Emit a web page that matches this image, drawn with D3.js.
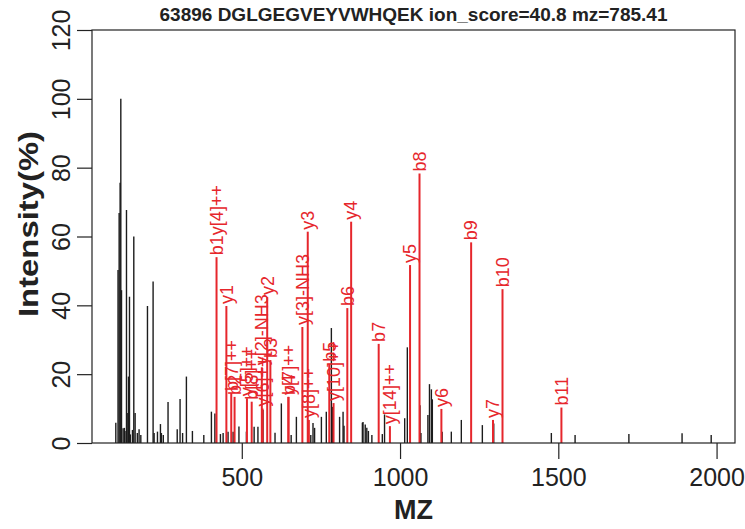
<!DOCTYPE html>
<html>
<head>
<meta charset="utf-8">
<script src="https://cdn.jsdelivr.net/npm/d3@7"></script>
<style>
  html, body { margin: 0; padding: 0; background: #fff; }
  svg { display: block; font-family: "Liberation Sans", Arial, Helvetica, sans-serif; }
</style>
</head>
<body>
<svg id="chart" width="745" height="529"></svg>
<script>
// ---- data ----
const titleText = "63896 DGLGEGVEYVWHQEK ion_score=40.8 mz=785.41";
const xLabel = "MZ";
const yLabel = "Intensity(%)";

// unmatched (black) peaks
const peakMz  = [102,109,112.5,115.6,117.8,120,125,129,131,135.7,140,142,145.2,148,154.6,158.8,163,170,175.5,181,
                 202,219.8,223,233.6,243,246,252,267,296,305,313,325,344,380,404,415,432.5,441,456.6,472.5,
                 491,514.6,539,551,567,605,625,656,672.5,718,725,730,751.5,767,783,787,809,820,823,881,
                 883,890,895,900,911,944,951,1014.6,1023,1063,1066,1088,1093,1099,1102,1133,1162,1193.6,1260,1296,
                 1478,1553,1723,1891,1983];
const peakInt = [5.9,50.3,66.8,75.6,100,44.4,4.3,4.4,3.5,67.7,8.7,19.3,42.5,2.5,3.8,60,8.7,2.9,4,2.3,
                 39.8,46.9,2.9,3.3,5.5,2.9,2.3,11.9,4,12.8,2.9,19.3,3.5,2.3,9.1,8.6,2.6,2.9,3.3,3.3,
                 4.8,3.3,4.7,4.7,9.6,3,11.5,2.3,7.6,2.3,5.8,4.4,7.6,9.1,33.4,10.5,7.6,9.1,5,5.9,
                 6.1,5.4,4.4,3.5,2.3,2.6,8.3,7.2,27.8,11,2.9,8.1,17.1,15.6,12.7,3.3,3.3,6.7,5.2,5.7,
                 2.9,2.3,2.6,2.8,2.3];

// matched fragment ions (red)
const ionLabel = ["b1y[4]++","y1","b[7]++","b2","y[5]++","b[8]++","y[2]-NH3","y[6]++","y2","b3",
                  "b4","y[7]++","y[3]-NH3","y3","y[8]++","b5","y[10]++","b6","y4","b7",
                  "y[14]++","y5","b8","y6","b9","y7","b10","b11"];
const ionMz    = [420.2,451.3,466.7,477.2,516.3,531.3,563.3,565.8,580.3,590.3,
                  647.3,647.4,691.4,708.4,711.9,776.4,789.9,833.4,845.5,932.5,
                  968.0,1031.6,1061.5,1130.6,1224.6,1293.7,1323.7,1509.8];
const ionInt   = [54,39.8,14.5,13.4,13,12,22,10,42.4,24.1,
                  13.4,13.4,33.7,61.4,6.7,23,11.6,39.2,64.3,28.8,
                  4.9,51.7,78.3,9.9,58.3,6.7,44.7,10.3];

const xTicks = [500,1000,1500,2000];
const yTicks = [0,20,40,60,80,100,120];

// ---- layout ----
const box = {left: 92, right: 735, top: 30, bottom: 443};
const red = "#e6262c";
const svg = d3.select("#chart");

const allMz = peakMz.concat(ionMz);
const lo = d3.min(allMz), hi = d3.max(allMz), pad = (hi - lo) * 0.04;
const x = d3.scaleLinear().domain([lo - pad, hi + pad]).range([box.left, box.right]);
const y = d3.scaleLinear().domain([0, 120]).range([box.bottom, box.top]);

// black peaks
svg.append("g").selectAll("line").data(peakMz.map((m, i) => [m, peakInt[i]])).join("line")
  .attr("x1", d => x(d[0])).attr("x2", d => x(d[0]))
  .attr("y1", y(0)).attr("y2", d => y(d[1]))
  .attr("stroke", "#1c1c1c").attr("stroke-width", 1.4);

// red peaks
const ions = ionMz.map((m, i) => ({mz: m, v: ionInt[i], label: ionLabel[i]}));
svg.append("g").selectAll("line").data(ions).join("line")
  .attr("x1", d => x(d.mz)).attr("x2", d => x(d.mz))
  .attr("y1", y(0)).attr("y2", d => y(d.v))
  .attr("stroke", red).attr("stroke-width", 2);

svg.append("g").selectAll("text").data(ions).join("text")
  .attr("transform", d => `translate(${x(d.mz)},${y(d.v) - 2}) rotate(-90)`)
  .attr("dy", "0.35em")
  .attr("font-size", 18)
  .attr("fill", red)
  .text(d => d.label);

// box
svg.append("rect")
  .attr("x", box.left).attr("y", box.top)
  .attr("width", box.right - box.left).attr("height", box.bottom - box.top)
  .attr("fill", "none").attr("stroke", "#222").attr("stroke-width", 1.2);

// axes
const gx = svg.append("g").attr("transform", `translate(0,${box.bottom})`)
  .call(d3.axisBottom(x).tickValues(xTicks).tickFormat(d3.format("d"))
        .tickSize(16).tickSizeOuter(0).tickPadding(9));
gx.select(".domain").remove();
gx.selectAll("line").attr("stroke", "#222").attr("stroke-width", 1.2);
gx.selectAll("text").attr("font-size", 25).attr("fill", "#222").attr("font-family", null);

const gy = svg.append("g").attr("transform", `translate(${box.left},0)`)
  .call(d3.axisLeft(y).tickValues(yTicks).tickFormat(d3.format("d")).tickSize(15).tickSizeOuter(0));
gy.select(".domain").remove();
gy.selectAll("line").attr("stroke", "#222").attr("stroke-width", 1.2);
gy.selectAll("text")
  .attr("x", null).attr("dy", null)
  .attr("transform", "translate(-22,0) rotate(-90)")
  .attr("text-anchor", "middle")
  .attr("font-size", 25).attr("fill", "#222").attr("font-family", null);

// titles
svg.append("text").attr("x", (box.left + box.right) / 2).attr("y", 21)
  .attr("text-anchor", "middle").attr("font-weight", "bold").attr("font-size", 19)
  .attr("fill", "#222").text(titleText);
svg.append("text").attr("x", (box.left + box.right) / 2).attr("y", 519)
  .attr("text-anchor", "middle").attr("font-weight", "bold").attr("font-size", 27)
  .attr("fill", "#222").text(xLabel);
svg.append("text").attr("transform", `translate(38,224) rotate(-90)`)
  .attr("text-anchor", "middle").attr("font-weight", "bold").attr("font-size", 28)
  .attr("textLength", 186).attr("lengthAdjust", "spacingAndGlyphs")
  .attr("fill", "#222").text(yLabel);
</script>
</body>
</html>
